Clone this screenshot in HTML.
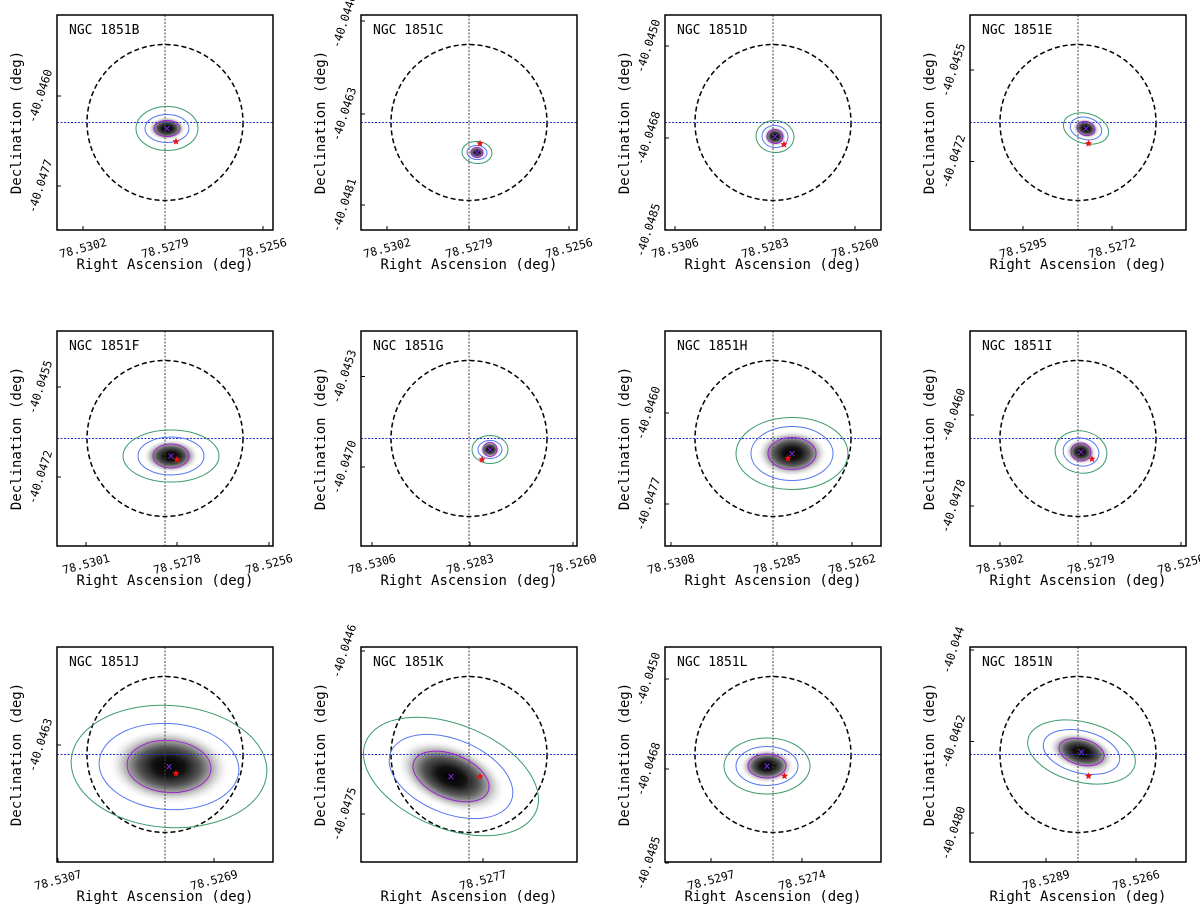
<!DOCTYPE html>
<html><head><meta charset="utf-8"><style>
html,body{margin:0;padding:0;background:#fff;}
svg{display:block;font-family:"DejaVu Sans Mono","Liberation Mono",monospace;}
</style></head><body>
<svg id="fig" width="1200" height="921" viewBox="0 0 1200 921" xmlns="http://www.w3.org/2000/svg">
<defs>
<radialGradient id="blob" cx="0.5" cy="0.5" r="0.5">
<stop offset="0" stop-color="#000"/>
<stop offset="0.25" stop-color="#111"/>
<stop offset="0.5" stop-color="#555"/>
<stop offset="0.75" stop-color="#c4c4c4"/>
<stop offset="1" stop-color="#fff" stop-opacity="0"/>
</radialGradient>
</defs>
</svg>
<script>
const names=["NGC 1851B","NGC 1851C","NGC 1851D","NGC 1851E","NGC 1851F","NGC 1851G","NGC 1851H","NGC 1851I","NGC 1851J","NGC 1851K","NGC 1851L","NGC 1851N"];
const centerDx=[2,8,2,8,6,21,19,3,4,-18,-6,3.5];
const centerDy=[6,30,14,6,17.5,11,15,13.5,12,22,11.5,-2.5];
const starDx=[11,11,11,10.5,12,13,15,14,11,11,11.5,10.5];
const starDy=[19,21,22,21,21,21,20,20.5,19,22,21.5,21.5];
const purpleA=[13,6,8,9,18,7,24,10,42,40,19,23];
const purpleB=[8,5,7,7,12,7,16,9,26,22,12,13];
const blueA=[22,10,13,16,33,12,41,18,70,65,31,39];
const blueB=[14,7,11,11,19,9,27,14,43,37,19.5,21];
const greenA=[31,15,19,23,48,18,56,26,98,92,43,55];
const greenB=[22,11,16,15,26,14,36,21,61,52,28,30];
const tilt=[0,5,5,15,0,0,0,10,4,22,0,14];
const xTickPos=[[26,108,206],[26,108,208],[10,100,190],[53,142],[29,120,212],[11,109,212],[6,112,187],[30,121,211],[1,157],[122],[46,137],[76,166]];
const xTickLab=[["78.5302","78.5279","78.5256"],["78.5302","78.5279","78.5256"],["78.5306","78.5283","78.5260"],["78.5295","78.5272"],["78.5301","78.5278","78.5256"],["78.5306","78.5283","78.5260"],["78.5308","78.5285","78.5262"],["78.5302","78.5279","78.5256"],["78.5307","78.5269"],["78.5277"],["78.5297","78.5274"],["78.5289","78.5266"]];
const yTickPos=[[81,171],[6,99,190],[31,123,215],[55,146.5],[56,146],[45.5,136],[82,173],[84,175],[98],[4,167],[32,122,216],[3,94.5,186]];
const yTickLab=[["-40.0460","-40.0477"],["-40.0446","-40.0463","-40.0481"],["-40.0450","-40.0468","-40.0485"],["-40.0455","-40.0472"],["-40.0455","-40.0472"],["-40.0453","-40.0470"],["-40.0460","-40.0477"],["-40.0460","-40.0478"],["-40.0463"],["-40.0446","-40.0475"],["-40.0450","-40.0468","-40.0485"],["-40.044","-40.0462","-40.0480"]];

const colLeft=[57,361,665,970], rowTop=[15,331,647], W=216, H=215, R=78;
const svg=document.getElementById('fig');
const NS="http://www.w3.org/2000/svg";
function mk(tag,attrs,parent){const e=document.createElementNS(NS,tag);for(const k in attrs)e.setAttribute(k,attrs[k]);(parent||svg).appendChild(e);return e;}
function starPath(x,y,r){let d="";for(let i=0;i<10;i++){const rr=i%2?r*0.45:r;const a=-Math.PI/2+i*Math.PI/5;d+=(i?"L":"M")+(x+rr*Math.cos(a)).toFixed(2)+" "+(y+rr*Math.sin(a)).toFixed(2);}return d+"Z";}

for(let p=0;p<12;p++){
  const L=colLeft[p%4], T=rowTop[Math.floor(p/4)], cx=L+W/2, cy=T+H/2;
  const g=mk('g',{});
  
  
  const ex=cx+centerDx[p], ey=cy+centerDy[p];
  const clip=mk('clipPath',{id:'c'+p},g);
  mk('rect',{x:L,y:T,width:W,height:H},clip);
  const inner=mk('g',{'clip-path':'url(#c'+p+')'},g);
  const rot='rotate('+tilt[p]+' '+ex+' '+ey+')';
  const blob=mk('ellipse',{cx:ex,cy:ey,rx:(purpleA[p]+blueA[p])*0.55,ry:(purpleB[p]+blueB[p])*0.55,fill:'url(#blob)',transform:rot},inner);
  
  
  const ap=mk('circle',{cx:cx,cy:cy,r:R,fill:'none',stroke:'#000','stroke-width':1.5,'stroke-dasharray':'5,3'},inner);
  
  
  const vl=mk('line',{x1:cx,y1:T,x2:cx,y2:T+H,stroke:'#444','stroke-width':1,'stroke-dasharray':'2,1.5'},inner);
  
  
  const hl=mk('line',{x1:L,y1:cy,x2:L+W,y2:cy,stroke:'#2233cc','stroke-width':1,'stroke-dasharray':'2,1.5'},inner);
  
  
  const conts=[[greenA,greenB,'#3a9a6a','contour-green'],[blueA,blueB,'#5577ee','contour-blue'],[purpleA,purpleB,'#a020d0','contour-purple']];
  for(const c of conts){
    const e=mk('ellipse',{cx:ex,cy:ey,rx:c[0][p],ry:c[1][p],fill:'none',stroke:c[2],'stroke-width':1,transform:rot},inner);
    
    
  }
  const xm=mk('text',{x:ex,y:ey+4,'text-anchor':'middle','font-size':12,fill:'#7a2be8'},inner);
  xm.textContent='×';
  
  
  const st=mk('path',{d:starPath(cx+starDx[p],cy+starDy[p],3.8),fill:'#ee1111'},inner);
  
  
  const box=mk('rect',{x:L,y:T,width:W,height:H,fill:'none',stroke:'#000','stroke-width':1.5},g);
  
  
  const lab=mk('text',{x:L+12,y:T+19,'font-size':13,fill:'#000'},g);
  lab.textContent=names[p];
  
  
  xTickPos[p].forEach((v,i)=>{
    const x=L+v;
    mk('line',{x1:x,y1:T+H,x2:x,y2:T+H-4,stroke:'#000','stroke-width':1},g);
    const t=mk('text',{x:x,y:T+H+22,'text-anchor':'middle','font-size':11.5,transform:'rotate(-15 '+x+' '+(T+H+18)+')'},g);
    t.textContent=xTickLab[p][i];
    
    
  });
  yTickPos[p].forEach((v,i)=>{
    const y=T+v;
    mk('line',{x1:L,y1:y,x2:L+4,y2:y,stroke:'#000','stroke-width':1},g);
    const t=mk('text',{x:L-17,y:y+4,'text-anchor':'middle','font-size':11.5,transform:'rotate(-72 '+(L-17)+' '+y+')'},g);
    t.textContent=yTickLab[p][i];
    
    
  });
  const xt=mk('text',{x:cx,y:T+H+39,'text-anchor':'middle','font-size':14},g);
  xt.textContent='Right Ascension (deg)';
  
  
  const yt=mk('text',{x:L-36,y:cy,'text-anchor':'middle','font-size':14,transform:'rotate(-90 '+(L-36)+' '+cy+')'},g);
  yt.textContent='Declination (deg)';
  
  
}
</script>
</body></html>
